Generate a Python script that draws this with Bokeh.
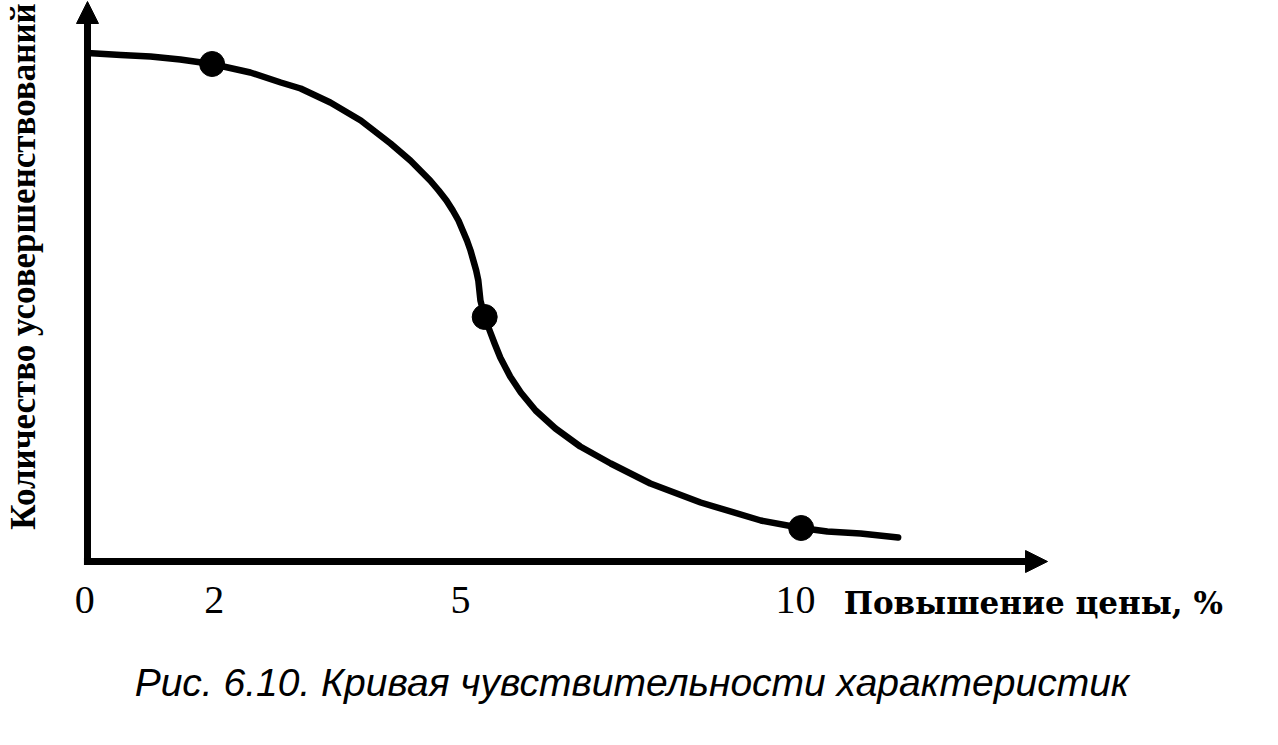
import math
from bokeh.plotting import figure
from bokeh.models import Range1d, Label, Arrow, NormalHead, ColumnDataSource
from bokeh.core.properties import value
from bokeh.embed import file_html
from bokeh.resources import INLINE

# ---- data ----
tick_labels = ["0", "2", "5", "10"]
tick_pos = [-0.04, 1.79, 5.27, 10.0]

curve_x = [0.0, 0.47, 0.89, 1.31, 1.76, 2.30, 2.73, 3.01, 3.43, 3.86,
           4.28, 4.56, 4.84, 4.96, 5.07, 5.16, 5.24, 5.30, 5.36, 5.41,
           5.45, 5.49, 5.52, 5.55, 5.61, 5.68, 5.75, 5.83, 5.97, 6.12,
           6.33, 6.61, 6.96, 7.39, 7.95, 8.66, 9.51, 10.08, 10.45, 10.92,
           11.45]
curve_y = [10.17, 10.13, 10.10, 10.04, 9.95, 9.78, 9.58, 9.46, 9.18, 8.82,
           8.36, 8.02, 7.62, 7.42, 7.22, 7.02, 6.82, 6.62, 6.42, 6.22,
           6.02, 5.82, 5.62, 5.22, 4.89, 4.62, 4.36, 4.08, 3.70, 3.38,
           3.02, 2.66, 2.30, 1.96, 1.56, 1.18, 0.82, 0.67, 0.60, 0.56,
           0.48]

point_x = [1.76, 5.61, 10.08]
point_y = [9.95, 4.89, 0.67]

x_label = "Повышение цены, %"
y_label = "Количество усовершенствований"
caption = "Рис. 6.10. Кривая чувствительности характеристик"

# axis extents (in axis units)
x_axis_end = 13.56
y_axis_end = 11.2

# ---- figure ----
p = figure(width=1276, height=743, output_backend="svg", toolbar_location=None,
           x_range=Range1d(-1.2288, 16.794), y_range=Range1d(-3.64, 11.22),
           x_axis_location=None, y_axis_location=None,
           min_border=0)
p.outline_line_color = None
p.grid.visible = False
p.background_fill_color = "white"
p.border_fill_color = "white"

# axes with arrow heads
p.add_layout(Arrow(end=NormalHead(size=22, fill_color="black", line_color="black", line_width=1),
                   x_start=-0.05, y_start=0, x_end=x_axis_end, y_end=0,
                   line_width=7, line_color="black"))
p.add_layout(Arrow(end=NormalHead(size=22, fill_color="black", line_color="black", line_width=1),
                   x_start=0, y_start=-0.07, x_end=0, y_end=y_axis_end,
                   line_width=7, line_color="black"))

# tick labels on the x axis
tick_src = ColumnDataSource(dict(x=tick_pos, y=[-0.77] * len(tick_pos), text=tick_labels))
p.text(x="x", y="y", text="text", source=tick_src, text_align="center",
       text_baseline="alphabetic", text_font=value("Liberation Serif"),
       text_font_size="40px", text_color="black")

# curve and points
p.line(curve_x, curve_y, line_width=6.5, line_color="black", line_join="round", line_cap="round")
p.scatter(point_x, point_y, size=25, fill_color="black", line_color="black")

# labels
p.add_layout(Label(x=10.68, y=-0.82, text=x_label, text_align="left", text_baseline="alphabetic",
                   text_font="DejaVu Serif", text_font_style="bold", text_font_size="31px",
                   text_color="black"))
p.add_layout(Label(x=-0.904, y=5.90, text=y_label, angle=math.pi / 2,
                   text_align="center", text_baseline="middle",
                   text_font="Liberation Serif", text_font_style="bold", text_font_size="35px",
                   text_color="black"))
p.add_layout(Label(x=7.69, y=-2.42, text=caption, text_align="center", text_baseline="alphabetic",
                   text_font="Liberation Sans", text_font_style="italic", text_font_size="39px",
                   text_color="black"))

open("out.html", "w").write(file_html(p, INLINE))
